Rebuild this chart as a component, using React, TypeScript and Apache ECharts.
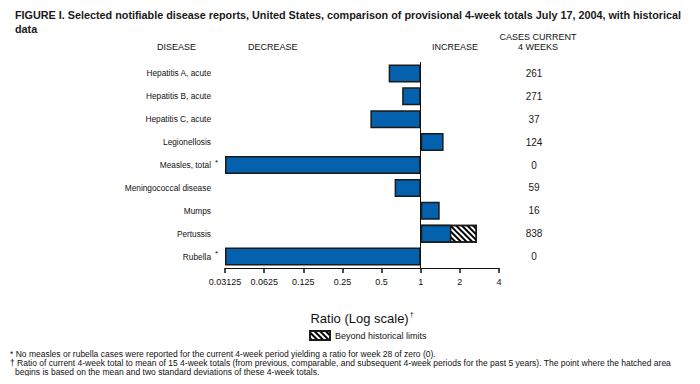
import React, { useEffect, useRef } from "react";
import * as echarts from "echarts";

const diseases = [
  "Hepatitis A, acute",
  "Hepatitis B, acute",
  "Hepatitis C, acute",
  "Legionellosis",
  "Measles, total",
  "Meningococcal disease",
  "Mumps",
  "Pertussis",
  "Rubella",
];
const starred = [false, false, false, false, true, false, false, false, true];
const ratios = [0.567, 0.72, 0.41, 1.5, 0, 0.63, 1.4, 1.72, 0];
const hatchEnds: (number | null)[] = [null, null, null, null, null, null, null, 2.71, null];
const cases = [261, 271, 37, 124, 0, 59, 16, 838, 0];
const tickValues = [0.03125, 0.0625, 0.125, 0.25, 0.5, 1, 2, 4];

const AXIS_MIN = 0.03125;
const AXIS_MAX = 4;
const FONT = "Arial, 'Liberation Sans', Helvetica, sans-serif";
const BLUE = "#0461ad";
const EDGE = "#1a1a1a";

export default function App() {
  const ref = useRef<HTMLDivElement>(null);
  useEffect(() => {
    if (!ref.current) return;
    const chart = echarts.init(ref.current, undefined, { renderer: "svg" });
    const plotted = ratios.map((r) => (r <= 0 ? AXIS_MIN : r));
    const option: any = {
      animation: false,
      backgroundColor: "#fff",
      textStyle: { fontFamily: FONT },
      title: {
        text: "FIGURE I. Selected notifiable disease reports, United States, comparison of provisional 4-week totals July 17, 2004, with historical\ndata",
        left: 10,
        top: 3,
        textStyle: { fontFamily: FONT, fontSize: 10.8, fontWeight: "bold", color: "#1a1a1a", lineHeight: 14 },
      },
      grid: { left: 225, right: 201, top: 62, height: 206 },
      legend: {
        data: ["Beyond historical limits"],
        left: 304,
        top: 325,
        itemWidth: 20,
        itemHeight: 9,
        itemGap: 6,
        icon: "rect",
        textStyle: { fontFamily: FONT, fontSize: 9, color: "#111" },
        selectedMode: false,
      },
      xAxis: {
        type: "log",
        logBase: 2,
        min: AXIS_MIN,
        max: AXIS_MAX,
        splitNumber: 7,
        axisLine: { show: true, lineStyle: { color: "#111", width: 1 } },
        axisTick: { show: true, length: 5, lineStyle: { color: "#111", width: 1.5 } },
        splitLine: { show: false },
        axisLabel: {
          color: "#111",
          fontSize: 9,
          margin: 9,
          formatter: (v: number) => {
            const m = tickValues.find((t) => Math.abs(t - v) / t < 1e-6);
            return m !== undefined ? String(m) : "";
          },
        },
        name: "{a|Ratio (Log scale)}{s|†}",
        nameLocation: "middle",
        nameGap: 43,
        nameTextStyle: {
          rich: {
            a: { fontFamily: FONT, fontSize: 13, color: "#111" },
            s: { fontFamily: FONT, fontSize: 7, color: "#111", padding: [0, 0, 8, 1] },
          },
        },
      },
      yAxis: [
        {
          type: "category",
          data: diseases,
          inverse: true,
          axisLine: { show: false },
          axisTick: { show: false },
          axisLabel: {
            margin: 7,
            color: "#111",
            formatter: (v: string, i: number) =>
              starred[i] ? `{a|${v}}{s|*}` : `{a|${v}}{e|}`,
            rich: {
              a: { fontFamily: FONT, fontSize: 8.3, color: "#111" },
              s: { fontFamily: FONT, fontSize: 8, color: "#111", width: 6, padding: [0, 0, 6, 1] },
              e: { width: 7 },
            },
          },
        },
        {
          type: "category",
          data: cases.map(String),
          inverse: true,
          position: "right",
          axisLine: { show: false },
          axisTick: { show: false },
          axisLabel: {
            margin: 35,
            align: "center",
            color: "#1a1a1a",
            fontSize: 10,
            fontFamily: FONT,
          },
        },
      ],
      series: [
        {
          name: "Beyond historical limits",
          type: "bar",
          data: hatchEnds.map((v) => (v === null ? "-" : v)),
          barWidth: 18,
          barGap: "-100%",
          itemStyle: {
            color: "#fff",
            borderColor: EDGE,
            borderWidth: 1.5,
            decal: {
              symbol: "rect",
              symbolSize: 1,
              color: "#000",
              backgroundColor: "#fff",
              dashArrayX: [1, 0],
              dashArrayY: [2, 2],
              rotation: Math.PI / 4,
            },
          },
        },
        {
          name: "Ratio",
          type: "bar",
          data: plotted,
          barWidth: 18,
          barGap: "-100%",
          itemStyle: { color: BLUE, borderColor: EDGE, borderWidth: 1.5 },
          markLine: {
            silent: true,
            symbol: "none",
            label: { show: false },
            lineStyle: { color: "#111", width: 1, type: "solid" },
            data: [{ xAxis: 1 }],
          },
        },
      ],
      graphic: [
        { type: "text", left: 157, top: 42, style: { text: "DISEASE", font: `9px ${FONT}`, fill: "#111" } },
        { type: "text", left: 248, top: 42, style: { text: "DECREASE", font: `9px ${FONT}`, fill: "#111" } },
        { type: "text", left: 432, top: 42, style: { text: "INCREASE", font: `9px ${FONT}`, fill: "#111" } },
        {
          type: "text",
          x: 538,
          y: 32,
          style: { text: "CASES CURRENT\n4 WEEKS", font: `9px ${FONT}`, fill: "#111", align: "center", lineHeight: 10 },
        },
        {
          type: "text",
          left: 10,
          top: 349,
          style: {
            text: "* No measles or rubella cases were reported for the current 4-week period yielding a ratio for week 28 of zero (0).",
            font: `8.5px ${FONT}`,
            fill: "#111",
          },
        },
        {
          type: "text",
          left: 10,
          top: 358,
          style: {
            text: "† Ratio of current 4-week total to mean of 15 4-week totals (from previous, comparable, and subsequent 4-week periods for the past 5 years). The point where the hatched area",
            font: `8.5px ${FONT}`,
            fill: "#111",
          },
        },
        {
          type: "text",
          left: 15,
          top: 367,
          style: {
            text: "begins is based on the mean and two standard deviations of these 4-week totals.",
            font: `8.5px ${FONT}`,
            fill: "#111",
          },
        },
      ],
    };
    chart.setOption(option);
    return () => chart.dispose();
  }, []);
  return <div ref={ref} style={{ width: 700, height: 384, margin: -8 }} />;
}
